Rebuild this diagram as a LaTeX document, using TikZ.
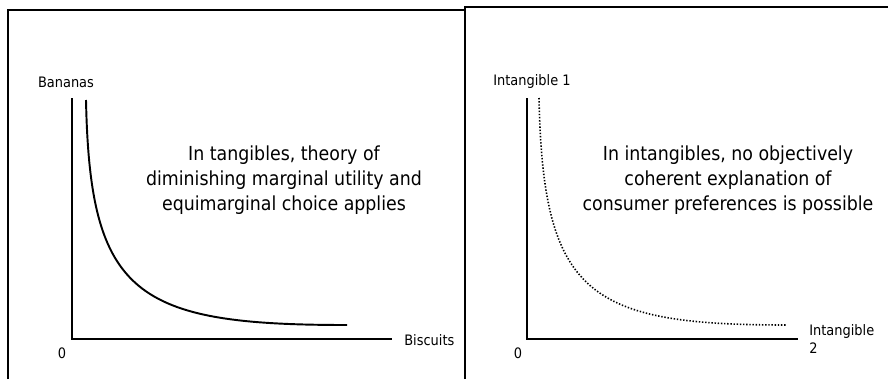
\documentclass[tikz,border=0pt]{standalone}
\usepackage{fontspec}
\setmainfont{DejaVu Sans Condensed}
\usepackage{tikz}
\usetikzlibrary{positioning}

\tikzset{
  panel/.style = {line width=1.3pt},
  axis/.style = {line width=0.9pt},
  tangcurve/.style = {line width=1.1pt},
  intcurve/.style = {line width=0.9pt, dash pattern=on 0.8pt off 1pt},
  smalllabel/.style = {font=\fontsize{8.2}{10.2}\selectfont, inner sep=0pt},
  claim/.style = {font=\fontsize{11}{14.2}\selectfont, align=center, inner sep=0pt}
}

\begin{document}
\begin{tikzpicture}[x=0.02cm, y=-0.02cm]
    \useasboundingbox (0,0) rectangle (888,379);
    \def\top{98} \def\base{339} \def\ra{453}

    % the two frames
    \draw[panel] (8,379) -- (8,10) -- (465,10);
    \draw[panel] (465,379) -- (465,7) -- (888,7);

    % tangibles
    \coordinate (O1) at (72,\base);
    \coordinate (Y1) at (72,\top);
    \coordinate (X1) at (392,\base);
    \draw[axis] (Y1) -- (O1) -- (X1);
    \node[smalllabel] (bananas) at (66,82) {Bananas};
    \node[smalllabel] (zero1) at (62,353) {0};
    \node[smalllabel, anchor=west] (biscuits) at (404,340) {Biscuits};
    \coordinate (A1) at (86,100);
    \coordinate (B1) at (347,325);
    \draw[tangcurve] (A1) .. controls (90,295) and (135,325) .. (B1);
    \node[claim] (tangtext) at (284,180) {In tangibles, theory of\\diminishing marginal utility and\\equimarginal choice applies};

    % intangibles
    \coordinate (O2) at (527,\base);
    \coordinate (Y2) at (527,\top);
    \coordinate (X2) at (798,\base);
    \draw[axis] (Y2) -- (O2) -- (X2);
    \node[smalllabel] (int1) at (532,82) {Intangible 1};
    \node[smalllabel] (zero2) at (518,353) {0};
    \node[smalllabel, anchor=west, align=left] (int2) at (809,339) {Intangible\\2};
    \coordinate (A2) at (539,98);
    \coordinate (B2) at (787,325);
    \draw[intcurve] (A2) .. controls (543,295) and (588,325) .. (B2);
    \node[claim] (inttext) at (728,180) {In intangibles, no objectively\\coherent explanation of\\consumer preferences is possible};
\end{tikzpicture}
\end{document}
